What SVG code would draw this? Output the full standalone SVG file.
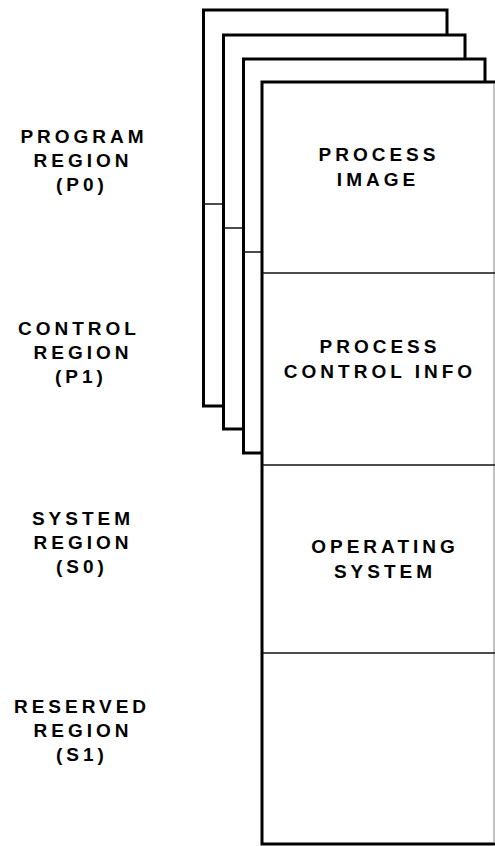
<svg xmlns="http://www.w3.org/2000/svg" width="495" height="846" viewBox="0 0 495 846">
<style>
.page{fill:#fff;stroke:#000;stroke-width:3;stroke-linejoin:miter}
.div{stroke:#111;stroke-width:1.3;fill:none}
.edge{stroke:#999;stroke-width:1.2;fill:none}
text{font-family:"Liberation Sans",Arial,sans-serif;font-weight:bold;font-size:19px;letter-spacing:4px;text-anchor:middle;fill:#000}
</style>
<rect width="495" height="846" fill="#fff"/>
<g id="page1">
<rect class="page" x="203.5" y="10" width="243.5" height="396"/>
<line class="div" x1="203.5" y1="204" x2="447" y2="204"/>
</g>
<g id="page2">
<rect class="page" x="223.5" y="35" width="241.5" height="394"/>
<line class="div" x1="223.5" y1="228" x2="465" y2="228"/>
</g>
<g id="page3">
<rect class="page" x="243.5" y="59" width="241.5" height="394"/>
<line class="div" x1="243.5" y1="252" x2="485" y2="252"/>
</g>
<g id="front">
<rect x="262" y="82" width="233" height="762" fill="#fff"/>
<path class="page" d="M495,82 H262 V844 H495" fill="none"/>
<line class="edge" x1="494" y1="84" x2="494" y2="842"/>
</g>
<g id="connectors">
<line class="div" x1="262" y1="273" x2="495" y2="273"/>
<line class="div" x1="262" y1="465" x2="495" y2="465"/>
<line class="div" x1="262" y1="653" x2="495" y2="653"/>
</g>
<g id="process-image">
<text x="379" y="161">PROCESS</text>
<text x="378" y="186">IMAGE</text>
</g>
<g id="process-control">
<text x="380" y="353">PROCESS</text>
<text x="380" y="378">CONTROL INFO</text>
</g>
<g id="operating-system">
<text x="385" y="553">OPERATING</text>
<text x="385" y="578">SYSTEM</text>
</g>
<g id="label-p0">
<text x="84" y="143">PROGRAM</text>
<text x="83" y="167">REGION</text>
<text x="82" y="191">(P0)</text>
</g>
<g id="label-p1">
<text x="79" y="335">CONTROL</text>
<text x="83" y="359">REGION</text>
<text x="81" y="383">(P1)</text>
</g>
<g id="label-s0">
<text x="83" y="525">SYSTEM</text>
<text x="83" y="549">REGION</text>
<text x="82" y="573">(S0)</text>
</g>
<g id="label-s1">
<text x="82" y="713">RESERVED</text>
<text x="83" y="737">REGION</text>
<text x="82" y="761">(S1)</text>
</g>
</svg>
